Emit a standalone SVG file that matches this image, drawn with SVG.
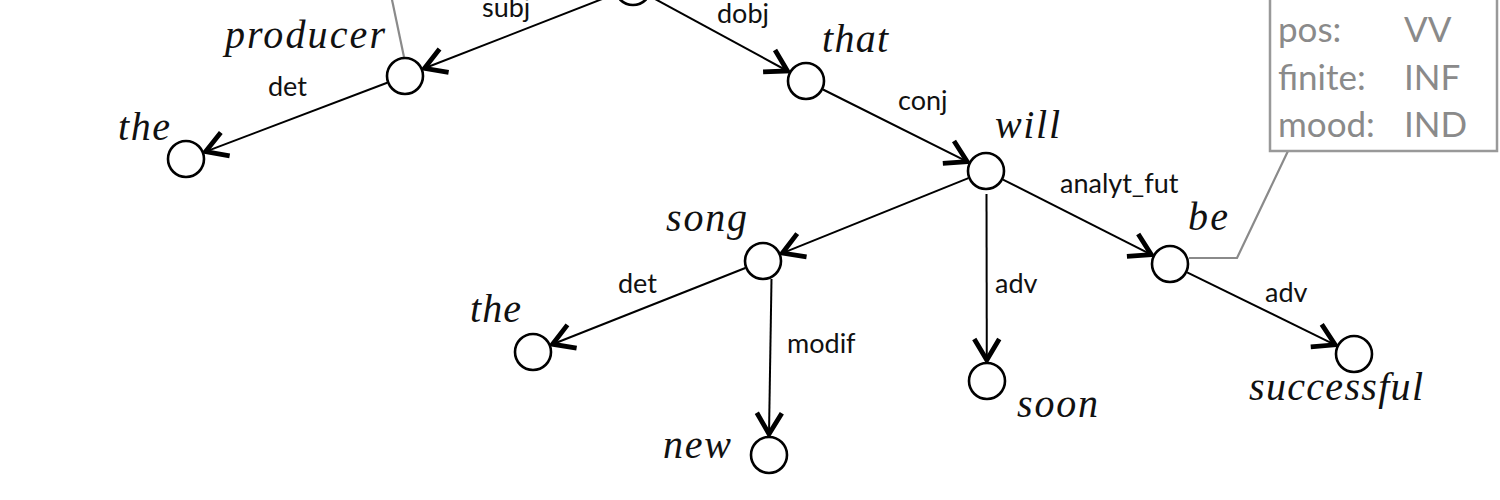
<svg xmlns="http://www.w3.org/2000/svg" width="1500" height="500" viewBox="0 0 1500 500">
  <style>
    .node { fill: #fff; stroke: #000; stroke-width: 2.6; }
    .word { font-family: "Liberation Serif", serif; font-style: italic; font-size: 40px; fill: #111; }
    .edge { fill: none; stroke: #000; stroke-width: 2; }
    .lbl { font-family: Lato, "Liberation Sans", sans-serif; font-size: 27px; fill: #111; }
    .gray { fill: none; stroke: #8a8a8a; stroke-width: 2.2; }
    .feat { font-family: Lato, "Liberation Sans", sans-serif; font-size: 35px; fill: #8a8a8a; }
  </style>
  <defs>
    <marker id="arr" markerUnits="userSpaceOnUse" markerWidth="50" markerHeight="50" refX="0" refY="0" viewBox="-35 -25 50 50" orient="auto" overflow="visible">
      <path d="M -21 -12.5 L 0 0 L -21 12.5" fill="none" stroke="#000" stroke-width="4.8" stroke-linejoin="miter"/>
    </marker>
  </defs>
  <rect width="1500" height="500" fill="#fff"/>

  <g id="connectors">
    <line class="edge" x1="615.3" y1="-6.1" x2="424.5" y2="68.3" marker-end="url(#arr)"/>
    <line class="edge" x1="649.7" y1="-3.9" x2="787.5" y2="71" marker-end="url(#arr)"/>
    <line class="edge" x1="387.2" y1="82.7" x2="205.6" y2="151.6" marker-end="url(#arr)"/>
    <line class="edge" x1="823" y1="89.5" x2="967.2" y2="161.6" marker-end="url(#arr)"/>
    <line class="edge" x1="968.4" y1="178.1" x2="782.4" y2="253.1" marker-end="url(#arr)"/>
    <line class="edge" x1="986.5" y1="194" x2="986.8" y2="360" marker-end="url(#arr)"/>
    <line class="edge" x1="1003" y1="179.6" x2="1151.3" y2="254.6" marker-end="url(#arr)"/>
    <line class="edge" x1="745.3" y1="268" x2="552.5" y2="344.2" marker-end="url(#arr)"/>
    <line class="edge" x1="771.5" y1="279" x2="769" y2="434" marker-end="url(#arr)"/>
    <line class="edge" x1="1187.1" y1="272.3" x2="1335.1" y2="344.8" marker-end="url(#arr)"/>
    <text class="lbl" x="482" y="17">subj</text>
    <text class="lbl" x="717" y="23">dobj</text>
    <text class="lbl" x="268" y="96">det</text>
    <text class="lbl" x="898" y="110">conj</text>
    <text class="lbl" x="1060" y="193">analyt_fut</text>
    <text class="lbl" x="995" y="293">adv</text>
    <text class="lbl" x="1265" y="302">adv</text>
    <text class="lbl" x="618" y="293">det</text>
    <text class="lbl" x="787" y="353">modif</text>
    <polyline class="gray" points="404,57 391,-5"/>
    <polyline class="gray" points="1189,258 1237,258 1288,151"/>
  </g>

  <g id="features">
    <rect x="1270" y="-20" width="227" height="171" fill="#fff" stroke="#999" stroke-width="2.5"/>
    <text class="feat" x="1278" y="42">pos:</text>
    <text class="feat" x="1404" y="42">VV</text>
    <text class="feat" x="1278" y="90">finite:</text>
    <text class="feat" x="1404" y="90">INF</text>
    <text class="feat" x="1278" y="137">mood:</text>
    <text class="feat" x="1404" y="137">IND</text>
  </g>

  <g id="n-root"><circle class="node" cx="633" cy="-13" r="18"/></g>
  <g id="n-producer"><circle class="node" cx="405" cy="76" r="18"/><text class="word" x="225" y="48" textLength="160">producer</text></g>
  <g id="n-the1"><circle class="node" cx="186" cy="159" r="18"/><text class="word" x="118" y="140" textLength="52">the</text></g>
  <g id="n-that"><circle class="node" cx="806" cy="81" r="18"/><text class="word" x="822" y="52" textLength="66">that</text></g>
  <g id="n-will"><circle class="node" cx="986" cy="171" r="18"/><text class="word" x="995" y="138" textLength="65">will</text></g>
  <g id="n-song"><circle class="node" cx="763" cy="261" r="18"/><text class="word" x="666" y="231" textLength="81">song</text></g>
  <g id="n-the2"><circle class="node" cx="533" cy="352" r="18"/><text class="word" x="470" y="322" textLength="51">the</text></g>
  <g id="n-new"><circle class="node" cx="769" cy="455" r="18"/><text class="word" x="663" y="458" textLength="68">new</text></g>
  <g id="n-soon"><circle class="node" cx="987" cy="381" r="18"/><text class="word" x="1017" y="417" textLength="81">soon</text></g>
  <g id="n-be"><circle class="node" cx="1170" cy="264" r="18"/><text class="word" x="1188" y="230" textLength="40">be</text></g>
  <g id="n-successful"><circle class="node" cx="1354" cy="354" r="18"/><text class="word" x="1249" y="400" textLength="174">successful</text></g>
</svg>
